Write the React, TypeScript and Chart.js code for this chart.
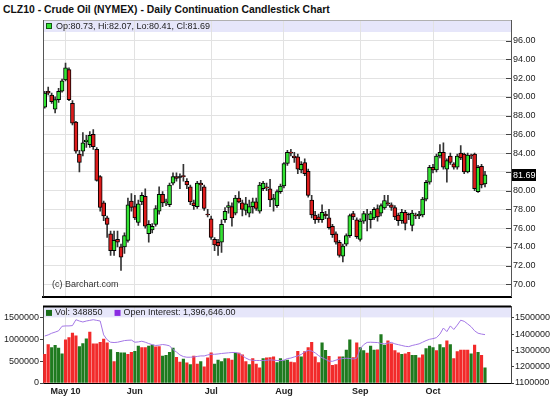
import React, { useEffect, useRef } from "react";
import { Chart, registerables } from "chart.js";
Chart.register(...registerables);

// ---------- categories (trading days, 2010) ----------
const aprDays = [23, 26, 27, 28, 29, 30];
const mayDays = [3, 4, 5, 6, 7, 10, 11, 12, 13, 14, 17, 18, 19, 20, 21, 24, 25, 26, 27, 28];
const junDays = [1, 2, 3, 4, 7, 8, 9, 10, 11, 14, 15, 16, 17, 18, 21, 22, 23, 24, 25, 28, 29, 30];
const julDays = [1, 2, 6, 7, 8, 9, 12, 13, 14, 15, 16, 19, 20, 21, 22, 23, 26, 27, 28, 29, 30];
const augDays = [2, 3, 4, 5, 6, 9, 10, 11, 12, 13, 16, 17, 18, 19, 20, 23, 24, 25, 26, 27, 30, 31];
const sepDays = [1, 2, 3, 7, 8, 9, 10, 13, 14, 15, 16, 17, 20, 21, 22, 23, 24, 27, 28, 29, 30];
const octDays = [1, 4, 5, 6, 7, 8, 11, 12, 13, 14, 15, 18, 19, 20, 21, 22];
const monthLabels = ["May 10", "Jun", "Jul", "Aug", "Sep", "Oct"];
const blankSlotsAfter = 7;

// ---------- price series ----------
const opens = [88.9,90.6,90.2,88.7,89.7,90.6,91.8,92.9,89.3,87.3, 83.9,84.2,85.2,84.9,86.0,84.4,81.5,78.7,77.1,75.4, 73.6,74.8,74.0,74.0,74.7,78.9,78.3,76.6,78.8,79.4, 75.4,75.8,76.4,77.8,79.6,78.7,78.5,80.8,81.5,81.4, 81.6,81.0,80.4,78.7,78.3,80.8,80.4,77.5,77.0,74.8, 74.5,74.5,76.9,78.2,78.3,77.6,79.2,78.7,77.9,77.6, 78.3,78.8,77.8,80.2,80.4,80.2,79.0,78.4,79.9,80.5, 82.9,84.1,83.7,83.6,82.2,83.0,82.05,79.0,77.4,77.2, 76.9,77.5,77.1,76.2,75.4,74.5,73.0,74.3,75.2,77.55, 76.9,74.8,76.75,77.4,76.9,77.1,78.1,77.6,78.15,78.7, 78.5,78.2,77.4,76.8,77.7,77.4,76.3,77.4,77.3,77.4, 79.1,80.9,82.5,82.2,83.7,84.1,82.3,83.7,82.85,82.5, 84.0,83.9,82.0,83.8,83.9,79.9,82.6,80.73];
const highs = [90.6,91.05,90.4,90.0,90.9,91.9,93.6,93.1,89.6,87.4, 84.3,86.2,85.9,86.3,86.5,84.6,81.6,78.9,77.3,75.7, 75.7,75.7,74.3,75.5,79.2,79.7,79.5,79.0,79.8,80.2, 76.8,76.5,78.4,80.4,79.9,79.1,80.8,81.9,81.9,81.8, 82.8,81.3,80.6,79.0,81.0,81.1,80.6,78.0,77.3,75.0, 74.8,76.9,78.2,78.8,78.7,79.5,79.9,79.0,79.3,79.0, 79.2,79.2,80.9,81.0,80.8,81.2,79.6,80.1,80.7,83.0, 84.3,84.4,84.1,83.9,83.1,83.4,82.3,79.5,77.8,77.5, 78.5,77.8,78.0,76.4,75.6,74.7,74.3,75.4,77.5,77.8, 77.1,77.0,77.8,78.0,77.8,78.2,78.5,78.6,79.5,79.5, 78.7,78.4,77.6,78.0,77.9,77.6,77.9,77.6,77.8,79.3, 81.1,82.7,82.8,83.9,84.9,85.1,83.4,84.0,83.0,83.9, 84.8,84.0,84.0,83.9,84.0,82.7,82.8,82.07];
const lows = [88.8,90.2,89.3,88.3,89.4,90.5,91.7,89.6,87.0,84.0, 82.0,83.7,84.6,84.6,84.4,81.0,77.8,76.8,75.0,73.1, 73.1,74.0,71.5,73.3,74.5,77.8,76.9,76.3,78.5,76.0, 74.5,75.5,76.2,77.5,78.3,78.4,78.3,80.6,81.0,80.2, 81.0,80.2,78.5,78.0,78.1,80.0,77.9,77.2,74.8,73.6, 73.1,73.4,76.6,77.6,76.2,77.4,78.7,77.3,77.4,77.2, 77.6,77.9,77.6,80.0,80.0,78.3,77.8,78.2,79.7,80.3, 82.7,83.7,83.0,81.8,81.9,81.6,79.3,77.1,76.5,76.6, 76.6,77.0,75.9,75.0,74.3,72.9,72.4,74.1,75.0,76.9, 74.9,74.6,76.5,75.7,76.0,76.9,76.75,77.3,78.0,78.4, 77.9,76.9,76.3,76.5,75.8,76.9,75.7,77.0,77.0,77.2, 78.9,80.7,81.9,82.0,83.5,82.3,80.9,82.8,82.3,82.3, 83.3,81.8,81.9,83.4,80.0,79.8,80.3,80.41];
const closes = [90.4,90.4,89.5,89.7,90.6,91.7,93.1,89.7,87.2,84.2, 83.0,85.1,85.4,85.9,84.7,81.1,78.2,77.3,76.4,73.6, 74.7,74.5,72.9,75.2,78.5,78.2,77.1,78.6,79.5,76.2, 76.4,76.2,78.1,79.6,78.7,78.8,80.6,81.5,81.3,81.4, 81.5,80.6,78.8,78.4,80.8,80.6,78.1,77.4,75.0,74.2, 74.1,76.4,77.8,78.4,77.1,79.2,78.8,78.0,78.6,78.3, 78.8,78.1,80.6,80.8,80.3,79.0,79.2,79.9,80.5,82.9, 84.1,84.0,83.5,82.3,82.8,81.8,79.5,77.4,76.9,76.9, 77.7,77.3,76.05,75.3,74.5,73.1,74.1,75.2,77.35,77.2, 75.1,76.75,77.55,77.5,77.55,78.0,77.2,78.4,78.95,78.6, 78.2,77.2,76.8,77.7,76.5,77.4,77.6,77.3,77.5,79.1, 80.9,82.5,82.2,83.7,84.1,82.5,83.2,83.0,82.5,83.7, 83.5,82.0,83.8,83.7,80.2,82.5,80.6,81.69];

// ---------- volume / open interest ----------
const volumes = [657000,886000,814000,864000,800000,671000,993000,1043000,1150000,1086000, 836000,907000,1014000,1171000,900000,900000,936000,1007000,921000,771000, 493000,707000,693000,693000,657000,707000,729000,850000,814000,814000, 850000,871000,829000,836000,621000,636000,707000,800000,593000,479000, 550000,464000,421000,621000,436000,493000,371000,579000,693000,436000, 529000,493000,564000,564000,529000,686000,686000,650000,493000,421000, 564000,436000,350000,560000,580000,586000,600000,471000,564000,514000, 529000,479000,471000,729000,600000,721000,814000,936000,600000,471000, 921000,750000,614000,407000,421000,600000,600000,757000,993000,586000, 921000,814000,743000,686000,850000,757000,764000,1114000,871000,971000, 900000,743000,693000,657000,671000,707000,636000,636000,579000,650000, 793000,850000,814000,743000,886000,814000,971000,886000,564000,721000, 757000,757000,757000,671000,871000,707000,636000,348850];
const volumeDirection = ("dduuuudddd" + "uuuddddddu" + "duuudduudd" + "uudduuuudd" + "ududdudddu" + "uuuddudddu" + "dddud" + "dduuuudddu" + "ddddduuddd" + "duuudduudu" + "uduuddddud" + "duudduuudu" + "ududddddud" + "udu").split("");
const openInterest = [1388000,1395000,1405000,1412000,1420000,1448000,1450000,1450000,1452000,1488000, 1480000,1474000,1480000,1484000,1488000,1484000,1480000,1395000,1365000,1350000, 1348000,1350000,1355000,1360000,1362000,1363000,1350000,1352000,1356000,1350000, 1342000,1335000,1330000,1332000,1336000,1333000,1328000,1305000,1290000,1272000, 1262000,1258000,1258000,1260000,1263000,1266000,1266000,1272000,1276000,1276000, 1278000,1281000,1283000,1285000,1287000,1287000,1282000,1268000,1253000,1243000, 1239000,1238000,1238000,1237000,1239000,1242000,1240000,1238000,1237000,1240000, 1250000,1253000,1260000,1266000,1275000,1290000,1300000,1296000,1285000,1268000, 1255000,1245000,1234000,1233000,1240000,1247000,1250000,1252000,1250000,1247000, 1252000,1310000,1335000,1349000,1350000,1349000,1348000,1342000,1340000,1345000, 1349000,1340000,1335000,1330000,1325000,1323000,1330000,1335000,1340000,1350000, 1360000,1368000,1372000,1378000,1400000,1437000,1415000,1450000,1428000,1455000, 1485000,1478000,1462000,1445000,1420000,1405000,1400000,1396646];

// ---------- tick values ----------
const priceTicks = [70, 72, 74, 76, 78, 80, 82, 84, 86, 88, 90, 92, 94, 96];
const volTicks = [0, 500000, 1000000, 1500000];
const oiTicks = [1100000, 1200000, 1300000, 1400000, 1500000];

// ---------- derived ----------
const monthDays: [number, number[]][] = [[4, aprDays], [5, mayDays], [6, junDays], [7, julDays], [8, augDays], [9, sepDays], [10, octDays]];
const dates: string[] = [];
const monthStartIdx: number[] = [];
monthDays.forEach(([m, days]) => {
  if (m >= 5) monthStartIdx.push(dates.length);
  days.forEach((d) => dates.push(`${m}/${d}/10`));
});
const labels = [...dates, ...Array(blankSlotsAfter).fill("")];
const last = closes.length - 1;

const FONT = '"Liberation Sans", Arial, sans-serif';
const UP = "#33e333";
const DOWN = "#dd1c1c";
const GRID = "#e2e2e2";
const BAND = "#e6e6fa";

const pricePanelPlugin = {
  id: "pricePanel",
  beforeDraw(chart: any) {
    const { ctx, chartArea: a } = chart;
    ctx.save();
    ctx.fillStyle = "#fff";
    ctx.fillRect(a.left, a.top, a.right - a.left, a.bottom - a.top);
    ctx.fillStyle = BAND;
    ctx.fillRect(a.left, a.top, a.right - a.left, 12);
    ctx.restore();
  },
  afterDraw(chart: any) {
    const { ctx, chartArea: a, scales } = chart;
    const y = scales.y;
    ctx.save();
    ctx.lineWidth = 1;
    ctx.strokeStyle = "#b0b0b0";
    ctx.beginPath();
    ctx.moveTo(a.left, a.top + 0.5);
    ctx.lineTo(a.right, a.top + 0.5);
    ctx.stroke();
    ctx.strokeStyle = "#555";
    ctx.beginPath();
    ctx.moveTo(a.left + 0.5, a.top);
    ctx.lineTo(a.left + 0.5, a.bottom);
    ctx.stroke();
    // inward tick marks
    ctx.strokeStyle = "#444";
    priceTicks.forEach((v) => {
      const py = Math.round(y.getPixelForValue(v)) + 0.5;
      ctx.beginPath();
      ctx.moveTo(a.right - 5, py);
      ctx.lineTo(a.right, py);
      ctx.stroke();
    });
    // legend
    ctx.fillStyle = UP;
    ctx.fillRect(a.left + 3, a.top + 3, 6, 6);
    ctx.strokeStyle = "#115511";
    ctx.strokeRect(a.left + 3.5, a.top + 3.5, 5, 5);
    ctx.fillStyle = "#222";
    ctx.font = `9px ${FONT}`;
    ctx.textBaseline = "middle";
    ctx.textAlign = "left";
    const f = (v: number) => v.toFixed(2);
    ctx.fillText(`Op:${f(opens[last])}, Hi:${f(highs[last])}, Lo:${f(lows[last])}, Cl:${f(closes[last])}`, a.left + 13, a.top + 6.5);
    // copyright
    ctx.fillStyle = "#333";
    ctx.fillText("(c) Barchart.com", a.left + 9, a.bottom - 12);
    // last price tag
    const py = Math.round(y.getPixelForValue(closes[last]));
    ctx.fillStyle = "#000";
    ctx.fillRect(a.right + 1, py - 6, 24, 12);
    ctx.fillStyle = "#fff";
    ctx.fillText(closes[last].toFixed(2), a.right + 2, py + 0.5);
    ctx.restore();
  },
};

const volPanelPlugin = {
  id: "volPanel",
  beforeDraw(chart: any) {
    const { ctx, chartArea: a } = chart;
    ctx.save();
    ctx.fillStyle = BAND;
    ctx.fillRect(a.left, a.top + 1, a.right - a.left, 10);
    ctx.restore();
  },
  afterDraw(chart: any) {
    const { ctx, chartArea: a } = chart;
    ctx.save();
    ctx.strokeStyle = "#000";
    ctx.lineWidth = 2;
    ctx.beginPath();
    ctx.moveTo(a.left, a.top);
    ctx.lineTo(a.right, a.top);
    ctx.stroke();
    ctx.font = `9px ${FONT}`;
    ctx.textBaseline = "middle";
    ctx.textAlign = "left";
    const cy = a.top + 6.5;
    ctx.fillStyle = "#1a6e1a";
    ctx.fillRect(a.left + 3, cy - 3, 6, 6);
    ctx.fillStyle = "#222";
    const vt = `Vol: ${volumes[last]}`;
    ctx.fillText(vt, a.left + 12, cy);
    const x2 = a.left + 12 + ctx.measureText(vt).width + 12;
    ctx.fillStyle = "#8a2be2";
    ctx.fillRect(x2, cy - 3, 6, 6);
    ctx.fillStyle = "#222";
    ctx.fillText(`Open Interest: ${openInterest[last].toLocaleString("en-US")}.00`, x2 + 9, cy);
    ctx.restore();
  },
};

export default function App() {
  const priceRef = useRef<HTMLCanvasElement>(null);
  const volRef = useRef<HTMLCanvasElement>(null);

  useEffect(() => {
    const bodies = opens.map((o, i) => [Math.min(o, closes[i]), Math.max(o, closes[i])]);
    const wicks = lows.map((l, i) => [l, highs[i]]);
    const bodyColors = opens.map((o, i) => (closes[i] > o ? UP : closes[i] < o ? DOWN : "#000"));
    const tickFont = { size: 9, family: FONT };
    const monthTicks = (s: any) => {
      s.ticks = monthStartIdx.map((v) => ({ value: v }));
    };

    const priceChart = new Chart(priceRef.current as HTMLCanvasElement, {
      type: "bar",
      data: {
        labels,
        datasets: [
          {
            label: "body",
            data: bodies as any,
            backgroundColor: bodyColors,
            borderColor: "#000",
            borderWidth: 1,
            borderSkipped: false,
            barThickness: 4,
            minBarLength: 1,
            grouped: false,
          } as any,
          {
            label: "wick",
            data: wicks as any,
            backgroundColor: "#333",
            borderWidth: 0,
            barThickness: 1,
            grouped: false,
          } as any,
        ],
      },
      options: {
        animation: false,
        responsive: false,
        maintainAspectRatio: false,
        layout: { padding: { left: 43, top: 20, right: 0, bottom: 2 } },
        plugins: { legend: { display: false }, tooltip: { enabled: false }, title: { display: false } },
        scales: {
          x: {
            type: "category",
            offset: true,
            grid: { offset: false, color: GRID, drawTicks: false },
            border: { display: true, color: "#000", width: 2 },
            ticks: { display: false, autoSkip: false },
            afterBuildTicks: monthTicks,
            afterFit: (s: any) => { s.height = 0; },
          },
          y: {
            position: "right",
            min: 68.7,
            max: 98.2,
            afterBuildTicks: (s: any) => { s.ticks = priceTicks.map((v) => ({ value: v })); },
            ticks: {
              font: tickFont,
              color: "#222",
              padding: 2,
              callback: (v: any) => (Math.abs(Number(v) - closes[last]) < 1 ? "" : Number(v).toFixed(2)),
            },
            grid: { color: GRID, drawTicks: false },
            border: { color: "#555" },
            afterFit: (s: any) => { s.width = 39; },
          },
        },
      } as any,
      plugins: [pricePanelPlugin],
    });

    const volChart = new Chart(volRef.current as HTMLCanvasElement, {
      type: "bar",
      data: {
        labels,
        datasets: [
          {
            type: "line",
            label: "Open Interest",
            data: openInterest,
            yAxisID: "yOI",
            borderColor: "#a478e6",
            borderWidth: 1,
            pointRadius: 0,
            tension: 0,
          } as any,
          {
            type: "bar",
            label: "Vol",
            data: volumes,
            yAxisID: "yVol",
            backgroundColor: volumeDirection.map((d) => (d === "u" ? "#1f7a1f" : "#f22a2a")),
            borderWidth: 0,
            barThickness: 2.5,
          } as any,
        ],
      },
      options: {
        animation: false,
        responsive: false,
        maintainAspectRatio: false,
        layout: { padding: { left: 0, top: 2, right: 0, bottom: 0 } },
        plugins: { legend: { display: false }, tooltip: { enabled: false } },
        scales: {
          x: {
            type: "category",
            offset: true,
            grid: { offset: false, color: GRID, drawTicks: false },
            border: { display: true, color: "#000", width: 1 },
            ticks: {
              autoSkip: false,
              maxRotation: 0,
              padding: 3,
              color: "#222",
              font: { size: 9, family: FONT, weight: "bold" },
              callback: (_v: any, i: number) => monthLabels[i],
            },
            afterBuildTicks: monthTicks,
            afterFit: (s: any) => { s.height = 15; },
          },
          yVol: {
            position: "left",
            min: 0,
            max: 1761000,
            afterBuildTicks: (s: any) => { s.ticks = volTicks.map((v) => ({ value: v })); },
            ticks: { font: tickFont, color: "#222", padding: 1, callback: (v: any) => String(v) },
            grid: { drawOnChartArea: false, drawTicks: true, tickLength: 3, tickColor: "#444" },
            border: { color: "#444" },
            afterFit: (s: any) => { s.width = 43; },
          },
          yOI: {
            position: "right",
            min: 1100000,
            max: 1569600,
            afterBuildTicks: (s: any) => { s.ticks = oiTicks.map((v) => ({ value: v })); },
            ticks: { font: tickFont, color: "#222", padding: 1, callback: (v: any) => String(v) },
            grid: { drawOnChartArea: false, drawTicks: true, tickLength: 3, tickColor: "#444" },
            border: { color: "#444" },
            afterFit: (s: any) => { s.width = 39; },
          },
        },
      } as any,
      plugins: [volPanelPlugin],
    });

    return () => {
      priceChart.destroy();
      volChart.destroy();
    };
  }, []);

  return (
    <div style={{ position: "absolute", left: 0, top: 0, width: 550, height: 398, background: "#fff", overflow: "hidden" }}>
      <div
        style={{
          position: "absolute",
          left: 3,
          top: 4,
          font: `bold 10.4px ${FONT}`,
          color: "#111",
          whiteSpace: "nowrap",
        }}
      >
        CLZ10 - Crude Oil (NYMEX) - Daily Continuation Candlestick Chart
      </div>
      <canvas ref={priceRef} width={550} height={304} style={{ position: "absolute", left: 0, top: 0 }} />
      <canvas ref={volRef} width={550} height={98} style={{ position: "absolute", left: 0, top: 300 }} />
    </div>
  );
}
